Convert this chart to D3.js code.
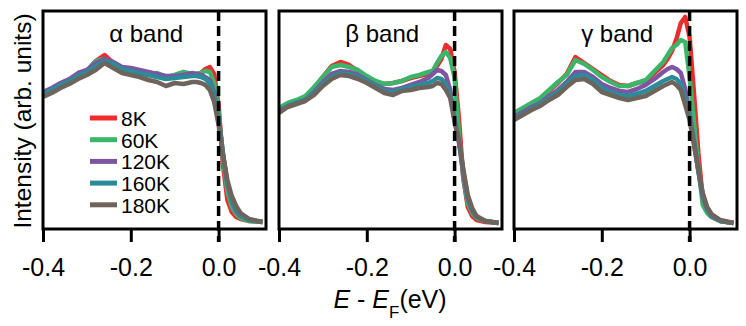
<!DOCTYPE html>
<html>
<head>
<meta charset="utf-8">
<script src="https://cdn.jsdelivr.net/npm/d3@7"></script>
<style>
  body { margin: 0; background: #fff; }
  text { font-family: "Liberation Sans", Arial, sans-serif; fill: #000; }
</style>
</head>
<body>
<div id="chart"></div>
<script>
// energy grid (eV), shared by all three bands
var energy = [-0.40, -0.38, -0.36, -0.34, -0.32, -0.30, -0.28, -0.26, -0.24, -0.22,
  -0.20, -0.18, -0.16, -0.14, -0.12, -0.10, -0.08, -0.06, -0.05, -0.04,
  -0.03, -0.02, -0.01, 0.00, 0.01, 0.02, 0.03, 0.04, 0.05, 0.07, 0.10];

var temps = ["8K", "60K", "120K", "160K", "180K"];
var colors = ["#ec2d2b", "#3bb56a", "#7d55a2", "#2a8b99", "#6e645c"];
var bandNames = ["\u03b1 band", "\u03b2 band", "\u03b3 band"];
var tickValues = [-0.4, -0.2, 0.0];

// intensity (arb. units)
var alpha8K   = [134, 139, 143, 148, 153, 158, 168, 174, 166, 160, 157, 156, 154, 154, 151, 153, 155, 154, 155, 156, 160, 162, 155, 124, 64, 29, 17, 12, 10, 8, 7];
var alpha60K  = [136, 140, 145, 149, 154, 158, 168, 170, 166, 161, 159, 158, 155, 156, 152, 154, 157, 155, 155, 156, 158, 157, 146, 118, 70, 38, 22, 15, 11, 8, 7];
var alpha120K = [137, 141, 146, 150, 156, 159, 166, 170, 167, 162, 161, 159, 157, 155, 153, 153, 154, 156, 155, 154, 152, 149, 136, 112, 76, 45, 28, 18, 13, 9, 7];
var alpha160K = [135, 139, 144, 148, 153, 157, 163, 168, 165, 160, 158, 156, 154, 152, 150, 151, 152, 153, 153, 152, 150, 146, 133, 110, 75, 46, 30, 20, 14, 9, 7];
var alpha180K = [132, 136, 141, 145, 150, 154, 159, 166, 161, 156, 154, 152, 149, 147, 143, 146, 145, 147, 147, 146, 144, 139, 127, 104, 74, 49, 33, 23, 16, 10, 7];

var beta8K   = [120, 125, 128, 132, 141, 152, 163, 167, 164, 158, 152, 147, 145, 146, 148, 151, 153, 155, 157, 163, 170, 184, 180, 157, 110, 50, 22, 13, 9, 7, 6];
var beta60K  = [121, 126, 129, 133, 142, 152, 162, 164, 162, 159, 153, 148, 145, 146, 148, 152, 154, 157, 158, 166, 173, 177, 171, 151, 94, 51, 26, 16, 11, 8, 6];
var beta120K = [118, 123, 126, 129, 137, 147, 155, 158, 157, 154, 149, 144, 140, 139, 141, 144, 147, 151, 155, 159, 158, 154, 139, 109, 86, 55, 30, 18, 12, 8, 6];
var beta160K = [117, 123, 126, 129, 136, 145, 152, 156, 155, 152, 148, 143, 138, 137, 140, 142, 144, 146, 148, 151, 150, 145, 134, 110, 88, 58, 32, 20, 12, 8, 6];
var beta180K = [116, 122, 125, 128, 134, 143, 150, 154, 153, 150, 146, 141, 136, 134, 138, 139, 141, 142, 143, 146, 145, 139, 131, 107, 89, 59, 34, 21, 13, 8, 6];

var gamma8K   = [115, 120, 125, 130, 138, 146, 155, 172, 166, 160, 154, 148, 144, 143, 146, 148, 156, 164, 170, 178, 190, 206, 212, 192, 136, 76, 30, 17, 12, 8, 6];
var gamma60K  = [116, 121, 126, 131, 139, 147, 154, 169, 165, 159, 152, 147, 143, 143, 146, 149, 158, 167, 174, 181, 184, 189, 187, 152, 107, 61, 24, 16, 12, 8, 6];
var gamma120K = [112, 117, 122, 126, 133, 139, 147, 157, 157, 152, 145, 141, 138, 137, 140, 144, 150, 157, 160, 162, 160, 156, 140, 115, 88, 58, 32, 20, 13, 8, 6];
var gamma160K = [110, 115, 120, 125, 131, 137, 145, 153, 154, 149, 141, 137, 134, 133, 135, 138, 143, 148, 150, 152, 150, 145, 130, 112, 86, 58, 34, 21, 14, 8, 6];
var gamma180K = [109, 114, 119, 123, 129, 134, 142, 149, 150, 145, 137, 134, 131, 129, 131, 133, 138, 143, 145, 147, 144, 139, 124, 109, 84, 59, 36, 22, 15, 9, 6];

var bands = [
  [alpha8K, alpha60K, alpha120K, alpha160K, alpha180K],
  [beta8K, beta60K, beta120K, beta160K, beta180K],
  [gamma8K, gamma60K, gamma120K, gamma160K, gamma180K]
];

var svg = d3.select("#chart").append("svg")
  .attr("width", 746)
  .attr("height", 326);

var panelLeft = [43, 279, 514];
var panelTop = 11, panelW = 223, panelH = 218;

var x = d3.scaleLinear().domain([-0.4, 0.108]).range([0, panelW]);
var y = d3.scaleLinear().domain([0, 218]).range([panelH, 0]);

var line = d3.line()
  .x(function(d, i) { return x(energy[i]); })
  .y(function(d) { return y(d); });

bands.forEach(function(series, p) {
  var g = svg.append("g")
    .attr("transform", "translate(" + panelLeft[p] + "," + panelTop + ")");

  // curves, 8K first so 180K ends up on top
  series.forEach(function(vals, s) {
    g.append("path")
      .datum(vals)
      .attr("d", line)
      .attr("fill", "none")
      .attr("stroke", colors[s])
      .attr("stroke-width", 4.5)
      .attr("stroke-linejoin", "round");
  });

  // Fermi level
  g.append("line")
    .attr("x1", x(0)).attr("x2", x(0))
    .attr("y1", 0).attr("y2", panelH + 13)
    .attr("stroke", "#000")
    .attr("stroke-width", 3.5)
    .attr("stroke-dasharray", "10,5");

  // frame
  g.append("rect")
    .attr("x", 0).attr("y", 0)
    .attr("width", panelW).attr("height", panelH)
    .attr("fill", "none")
    .attr("stroke", "#000")
    .attr("stroke-width", 3);

  // bottom axis
  var axis = g.append("g")
    .attr("transform", "translate(0," + panelH + ")")
    .call(d3.axisBottom(x).tickValues(tickValues).tickSize(13).tickPadding(16)
      .tickFormat(d3.format(".1f")));
  axis.select(".domain").remove();
  axis.selectAll("line").attr("stroke", "#000").attr("stroke-width", 3);
  axis.selectAll("text")
    .attr("font-size", 25)
    .attr("font-family", "Liberation Sans, Arial, sans-serif")
    .text(function(d) { return d3.format(".1f")(d).replace("\u2212", "-"); });

  g.append("text")
    .attr("x", x(-0.165))
    .attr("y", 31)
    .attr("text-anchor", "middle")
    .attr("font-size", 24)
    .text(bandNames[p]);
});

// legend in the first panel
var legend = svg.append("g");
temps.forEach(function(t, i) {
  var ly = 118 + i * 21.7;
  legend.append("line")
    .attr("x1", 90).attr("x2", 117)
    .attr("y1", ly).attr("y2", ly)
    .attr("stroke", colors[i])
    .attr("stroke-width", 5);
  legend.append("text")
    .attr("x", 121)
    .attr("y", ly + 8)
    .attr("font-size", 21)
    .text(t);
});

// axis titles
svg.append("text")
  .attr("transform", "translate(31,121) rotate(-90)")
  .attr("text-anchor", "middle")
  .attr("font-size", 24.5)
  .text("Intensity (arb. units)");

var xt = svg.append("text")
  .attr("x", 390)
  .attr("y", 308)
  .attr("text-anchor", "middle")
  .attr("font-size", 25);
xt.append("tspan").attr("font-style", "italic").text("E");
xt.append("tspan").text(" - ");
xt.append("tspan").attr("font-style", "italic").text("E");
xt.append("tspan").attr("font-size", 17).attr("dy", 10).text("F");
xt.append("tspan").attr("dy", -10).text("(eV)");
</script>
</body>
</html>
